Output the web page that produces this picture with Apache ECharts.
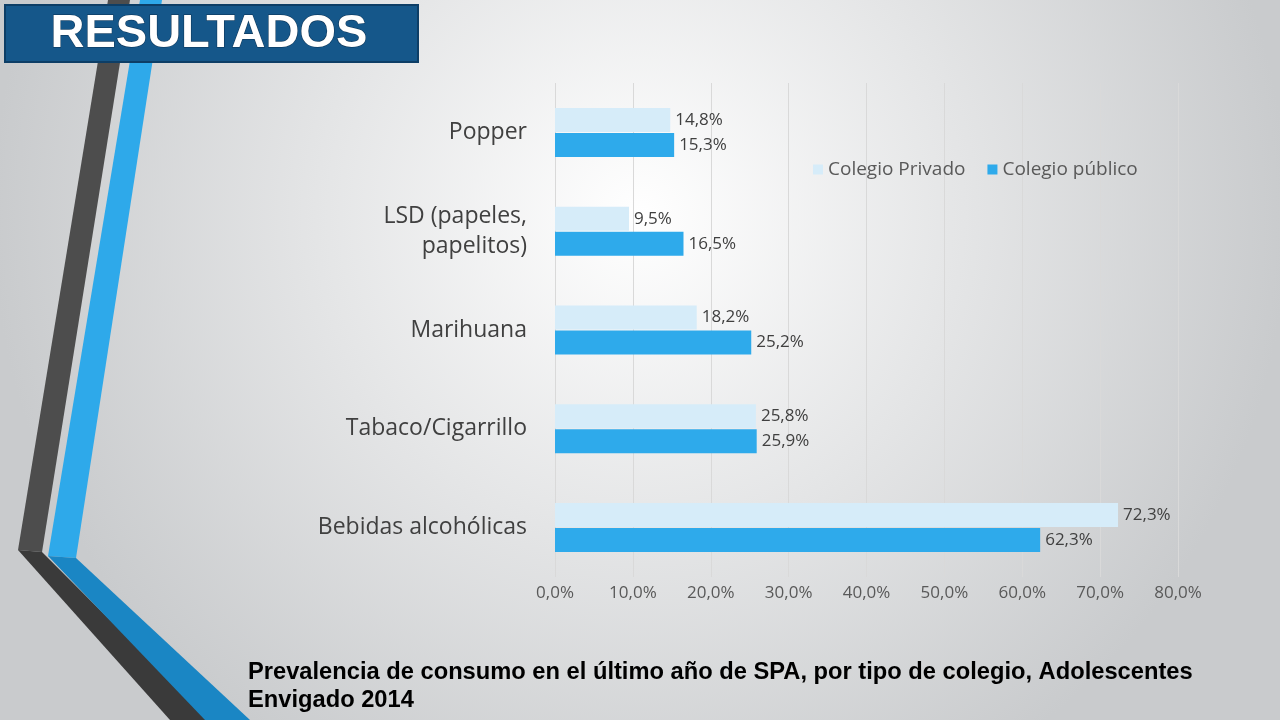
<!DOCTYPE html>
<html><head><meta charset="utf-8">
<script src="https://cdn.jsdelivr.net/npm/echarts@6/dist/echarts.min.js"></script>
<style>html,body{margin:0;padding:0}#c{width:1280px;height:720px}</style>
</head><body><div id="c"></div>
<script>
const categories = ['Bebidas alcohólicas','Tabaco/Cigarrillo','Marihuana','LSD (papeles,\npapelitos)','Popper'];
const privado = [72.3, 25.8, 18.2, 9.5, 14.8];
const publico = [62.3, 25.9, 25.2, 16.5, 15.3];
const fmt = v => v.toFixed(1).replace('.', ',') + '%';
const F = '"Open Sans", "Liberation Sans", Arial';
const chart = echarts.init(document.getElementById('c'));
chart.setOption({
  backgroundColor: {type:'radial', x:0.5, y:0.3, r:0.9, colorStops:[{offset:0,color:'#ffffff'},{offset:1,color:'#c9cbcd'}]},
  graphic: [
    {type:'polygon', shape:{points:[[108,0],[130,0],[42,552],[18,550]]}, style:{fill:'#4d4d4d'}},
    {type:'polygon', shape:{points:[[18,550],[42,552],[210,720],[170,720]]}, style:{fill:'#3a3a3a'}},
    {type:'polygon', shape:{points:[[140,0],[162,0],[76,558],[48,556]]}, style:{fill:'#2ea9ea'}},
    {type:'polygon', shape:{points:[[48,556],[76,558],[250,720],[205,720]]}, style:{fill:'#1a86c4'}},
    {type:'rect', shape:{x:5,y:5,width:413,height:57}, style:{fill:'#15578a', stroke:'#0d3e66', lineWidth:2}},
    {type:'text', left:50, top:10, style:{text:'RESULTADOS', fill:'#ffffff', font:'bold 47px "Liberation Sans", Arial', stroke:'#0b3050', lineWidth:1}},
    {type:'text', left:248, top:658, style:{text:'Prevalencia de consumo en el último año de SPA, por tipo de colegio, Adolescentes\nEnvigado 2014', fill:'#000', font:'bold 23.7px "Liberation Sans", Arial', lineHeight:28}}
  ],
  legend: {left:808, top:155, itemWidth:10, itemHeight:10, itemGap:22, icon:'rect',
    textStyle:{fontSize:19, color:'#595959', fontFamily:F},
    data:['Colegio Privado','Colegio público']},
  grid: {left:555, right:102, top:83, bottom:143},
  xAxis: {type:'value', min:0, max:80, interval:10,
    axisLabel:{formatter: v => fmt(v), fontSize:17, color:'#595959', margin:8, fontFamily:F},
    splitLine:{lineStyle:{color:'#d9d9d9'}}, axisLine:{show:false}, axisTick:{show:false}},
  yAxis: {type:'category', data:categories, axisLine:{show:false}, axisTick:{show:false},
    axisLabel:{fontSize:23, color:'#404040', margin:28, lineHeight:30, fontFamily:F}},
  series: [
    {name:'Colegio Privado', type:'bar', data:privado, barWidth:24, barGap:'4%', itemStyle:{color:'#d6ecf9'},
     label:{show:true, position:'right', formatter:p=>fmt(p.value), fontSize:17, color:'#404040', fontFamily:F}},
    {name:'Colegio público', type:'bar', data:publico, barWidth:24, itemStyle:{color:'#2eaaeb'},
     label:{show:true, position:'right', formatter:p=>fmt(p.value), fontSize:17, color:'#404040', fontFamily:F}}
  ]
});
</script></body></html>
